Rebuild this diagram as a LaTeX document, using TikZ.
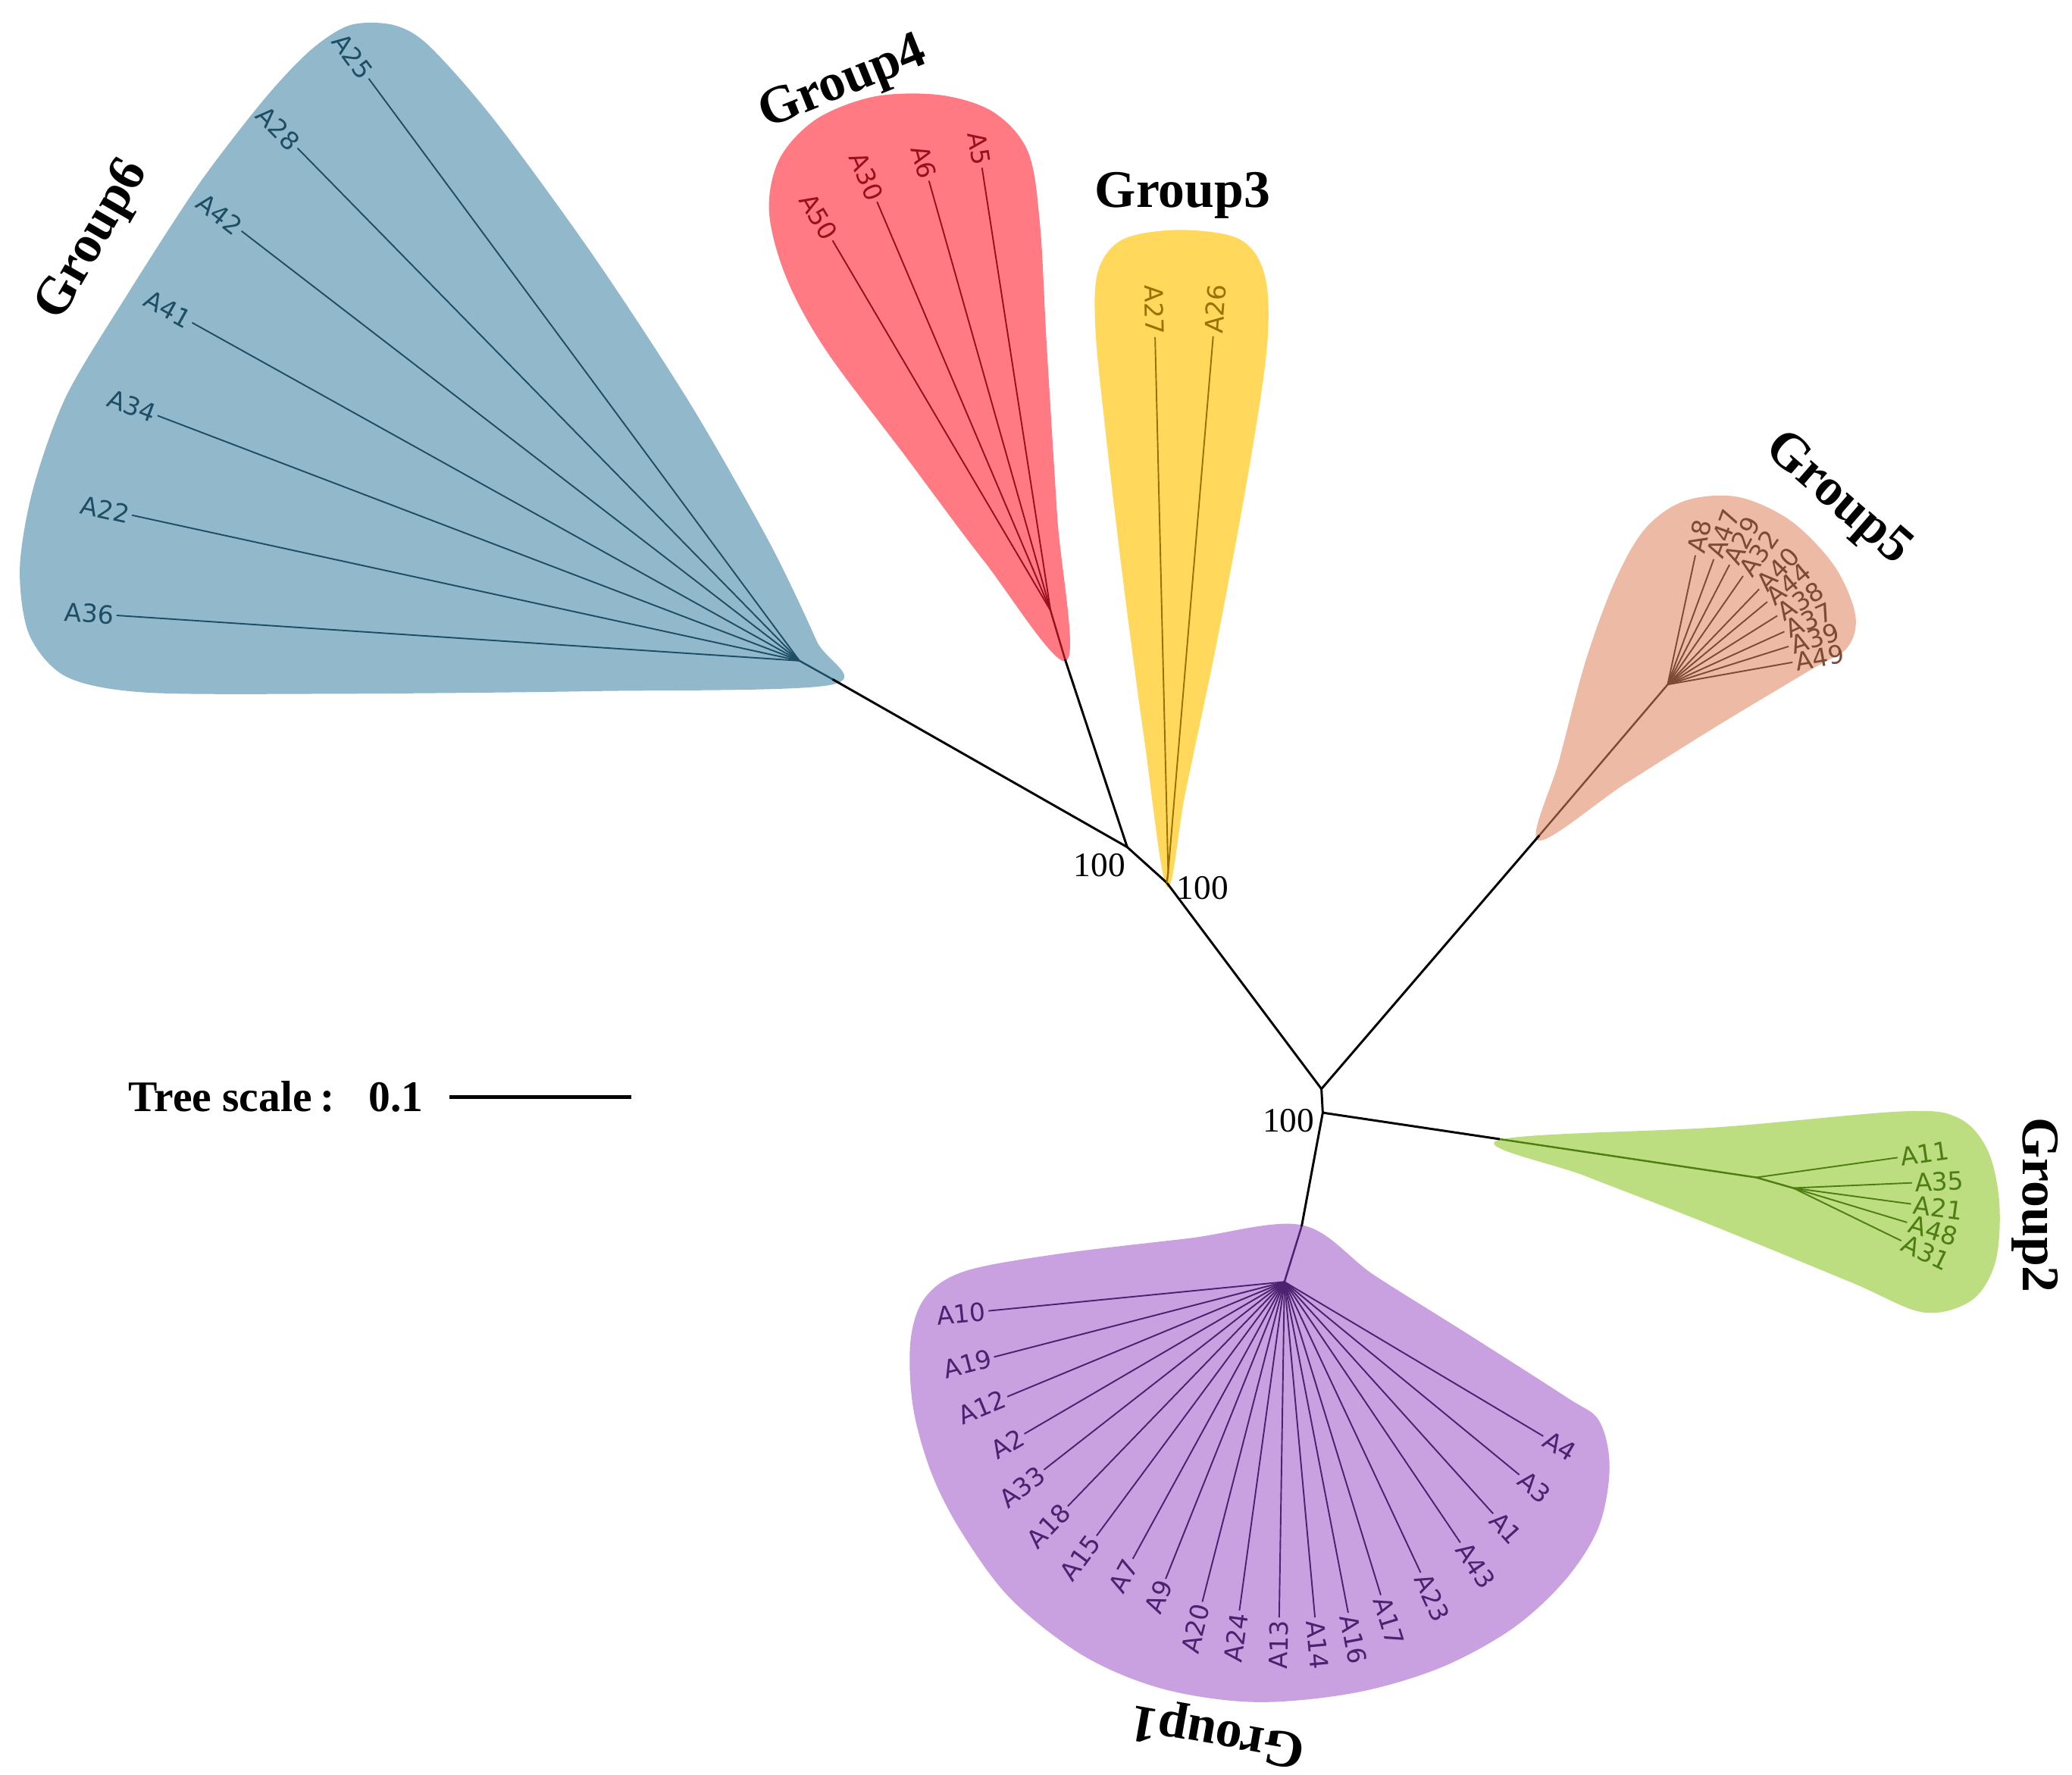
\documentclass[tikz,border=0pt]{standalone}
\usepackage{fontspec}
\setmainfont{Liberation Serif}
\newfontfamily\leaffont{DejaVu Sans}
\usetikzlibrary{calc}
\definecolor{fBlue}{HTML}{92B8CC}\definecolor{cBlue}{HTML}{1D4E66}
\definecolor{fPink}{HTML}{FF7A83}\definecolor{cPink}{HTML}{9A0F1E}
\definecolor{fYell}{HTML}{FFD85C}\definecolor{cYell}{HTML}{9C7000}
\definecolor{fPeach}{HTML}{EDBBA5}\definecolor{cPeach}{HTML}{7C4A36}
\definecolor{fGreen}{HTML}{BDDD81}\definecolor{cGreen}{HTML}{4E7D12}
\definecolor{fPurp}{HTML}{C9A0E0}\definecolor{cPurp}{HTML}{4B2170}
\tikzset{
  leafline/.style={line width=1.1pt},
  stem/.style={line width=1.7pt,black},
  leaflab/.style={font=\leaffont\fontsize{19}{19}\selectfont,inner sep=2pt},
  grouplab/.style={font=\bfseries\fontsize{40}{40}\selectfont,inner sep=0pt},
  boot/.style={font=\fontsize{26}{26}\selectfont,inner sep=0pt},
}
\newcommand\lfR[5]{%
  \path (#1) ++(-#2:#3) coordinate (l#4);
  \draw[leafline,#5] (#1) -- (l#4);
  \node[leaflab,text=#5,anchor=west,rotate=#2] (t#4) at (l#4) {#4};}
\newcommand\lfL[5]{%
  \path (#1) ++(-#2:#3) coordinate (l#4);
  \draw[leafline,#5] (#1) -- (l#4);
  \pgfmathsetmacro\myrot{#2-180}
  \node[leaflab,text=#5,anchor=east,rotate=\myrot] (t#4) at (l#4) {#4};}
\begin{document}
\begin{tikzpicture}[x=1pt,y=-1pt]
\useasboundingbox (0,0) rectangle (1568,1343);
% ---------- hulls ----------
\fill[fBlue] plot[smooth cycle,tension=0.5] coordinates {(630,518) (450,523) (250,525) (110,524) (50,512) (22,480) (15,430) (25,370) (50,300) (95,225) (150,140) (200,75) (235,38) (265,19) (298,19) (325,35) (375,92) (450,195) (522,305) (582,410) (618,485)};
\fill[fPink] plot[smooth cycle,tension=0.55] coordinates {(807,500) (745,425) (685,345) (625,265) (595,210) (582,160) (590,120) (618,90) (662,73) (712,72) (752,85) (778,115) (787,170) (792,260) (800,390)};
\fill[fYell] plot[smooth cycle,tension=0.55] coordinates {(883,671) (866,560) (850,440) (837,330) (829,250) (831,205) (850,181) (893,174) (938,181) (957,208) (959,260) (946,350) (922,480) (897,600)};
\fill[fPeach] plot[smooth cycle,tension=0.55] coordinates {(1164,636) (1180,575) (1200,500) (1222,440) (1245,400) (1275,379) (1315,376) (1355,394) (1388,428) (1404,465) (1398,490) (1370,507) (1300,549) (1230,593)};
\fill[fGreen] plot[smooth cycle,tension=0.55] coordinates {(1133,863) (1300,853) (1440,841) (1482,846) (1504,870) (1513,910) (1510,955) (1492,984) (1455,993) (1400,970) (1290,925) (1200,890)};
\fill[fPurp] plot[smooth cycle,tension=0.55] coordinates {(985,927) (900,937) (800,949) (730,962) (700,982) (689,1015) (691,1065) (705,1115) (728,1160) (765,1210) (820,1253) (880,1278) (950,1288) (1025,1281) (1090,1262) (1145,1232) (1185,1195) (1210,1155) (1218,1110) (1210,1075) (1185,1057) (1110,1009) (1040,965)};
% ---------- internal nodes ----------
\coordinate (N1) at (1000,824);
\coordinate (N2) at (1001,842);
\coordinate (N3) at (853,641);
\coordinate (N4) at (883,668);
\coordinate (G6) at (605,500);
\coordinate (B6) at (630,514);
\coordinate (G4) at (795,462);
\coordinate (B4) at (806,499);
\coordinate (G3) at (884,660);
\coordinate (G5) at (1262,518);
\coordinate (B5) at (1165,632);
\coordinate (G2a) at (1329,891);
\coordinate (G2) at (1357,899);
\coordinate (B2) at (1135,862);
\coordinate (G1) at (972,970);
\coordinate (B1) at (985,928);
% ---------- stems ----------
\draw[stem] (N2) -- (N1) -- (N4) -- (N3) -- (B6);
\draw[stem] (N3) -- (B4);
\draw[stem] (N1) -- (B5);
\draw[stem] (N2) -- (B2);
\draw[stem] (N2) -- (B1);
\draw[leafline,line width=1.4pt,cBlue] (B6) -- (G6);
\draw[leafline,line width=1.4pt,cPink] (B4) -- (G4);
\draw[leafline,line width=1.4pt,cYell] (N4) -- (G3);
\draw[leafline,line width=1.4pt,cPeach] (B5) -- (G5);
\draw[leafline,line width=1.4pt,cGreen] (B2) -- (G2a) -- (G2);
\draw[leafline,line width=1.4pt,cPurp] (B1) -- (G1);
% ---------- Group6 ----------
\lfL{G6}{126.5}{548}{A25}{cBlue}
\lfL{G6}{134.4}{543}{A28}{cBlue}
\lfL{G6}{142.4}{533}{A42}{cBlue}
\lfL{G6}{150.9}{526}{A41}{cBlue}
\lfL{G6}{159.1}{520}{A34}{cBlue}
\lfL{G6}{167.7}{517}{A22}{cBlue}
\lfL{G6}{176.2}{518}{A36}{cBlue}
% ---------- Group4 ----------
\lfL{G4}{120.5}{325}{A50}{cPink}
\lfL{G4}{113.0}{336}{A30}{cPink}
\lfL{G4}{105.8}{338}{A6}{cPink}
\lfL{G4}{98.8}{339}{A5}{cPink}
% ---------- Group3 ----------
\lfL{G3}{91.4}{405}{A27}{cYell}
\lfR{G3}{85.2}{407}{A26}{cYell}
% ---------- Group5 ----------
\lfR{G5}{77.9}{100}{A8}{cPeach}
\lfR{G5}{69.8}{101}{A47}{cPeach}
\lfR{G5}{62.7}{102}{A29}{cPeach}
\lfR{G5}{55.2}{100}{A32}{cPeach}
\lfR{G5}{46.2}{100}{A40}{cPeach}
\lfR{G5}{39.7}{98}{A44}{cPeach}
\lfR{G5}{32.1}{98}{A38}{cPeach}
\lfR{G5}{24.4}{97}{A37}{cPeach}
\lfR{G5}{17.5}{96}{A39}{cPeach}
\lfR{G5}{10.1}{96}{A49}{cPeach}
% ---------- Group2 ----------
\lfR{G2a}{8.0}{108}{A11}{cGreen}
\lfR{G2}{2.5}{90}{A35}{cGreen}
\lfR{G2}{-7.7}{90}{A21}{cGreen}
\lfR{G2}{-16.8}{90}{A48}{cGreen}
\lfR{G2}{-26}{91}{A31}{cGreen}
% ---------- Group1 ----------
\lfL{G1}{185.6}{225}{A10}{cPurp}
\lfL{G1}{194.5}{227}{A19}{cPurp}
\lfL{G1}{202.5}{227}{A12}{cPurp}
\lfL{G1}{210.3}{228}{A2}{cPurp}
\lfL{G1}{218}{231}{A33}{cPurp}
\lfL{G1}{226}{236}{A18}{cPurp}
\lfL{G1}{233.5}{239}{A15}{cPurp}
\lfL{G1}{241.3}{239}{A7}{cPurp}
\lfL{G1}{248.2}{242}{A9}{cPurp}
\lfL{G1}{255.6}{250}{A20}{cPurp}
\lfL{G1}{262.2}{251}{A24}{cPurp}
\lfL{G1}{269.1}{254}{A13}{cPurp}
\lfR{G1}{275.2}{255}{A14}{cPurp}
\lfR{G1}{280.9}{255}{A16}{cPurp}
\lfR{G1}{287.1}{248}{A17}{cPurp}
\lfR{G1}{295.1}{243}{A23}{cPurp}
\lfR{G1}{304}{238}{A43}{cPurp}
\lfR{G1}{312}{236}{A1}{cPurp}
\lfR{G1}{320.6}{230}{A3}{cPurp}
\lfR{G1}{329.2}{228}{A4}{cPurp}
% ---------- bootstrap ----------
\node[boot] (b3) at (832,655) {100};
\node[boot] (b4) at (910,672) {100};
\node[boot] (b1) at (975,848) {100};
% ---------- group labels ----------
\node[grouplab,rotate=60] (g6) at (71,182) {Group6};
\node[grouplab,rotate=22] (g4) at (638,64) {Group4};
\node[grouplab] (g3) at (895,148) {Group3};
\node[grouplab,rotate=-41] (g5) at (1390,378) {Group5};
\node[grouplab,rotate=-90] (g2) at (1540,912) {Group2};
\node[grouplab,rotate=170] (g1) at (922,1311) {Group1};
% ---------- scale ----------
\node[anchor=west,font=\bfseries\fontsize{33}{33}\selectfont,inner sep=0pt] (ts) at (97,830) {Tree scale\hspace{6pt}:\hspace{26pt}0.1};
\coordinate (sb1) at (340,830);
\coordinate (sb2) at (478,830);
\draw[line width=3pt] (sb1) -- (sb2);
\end{tikzpicture}
\end{document}
